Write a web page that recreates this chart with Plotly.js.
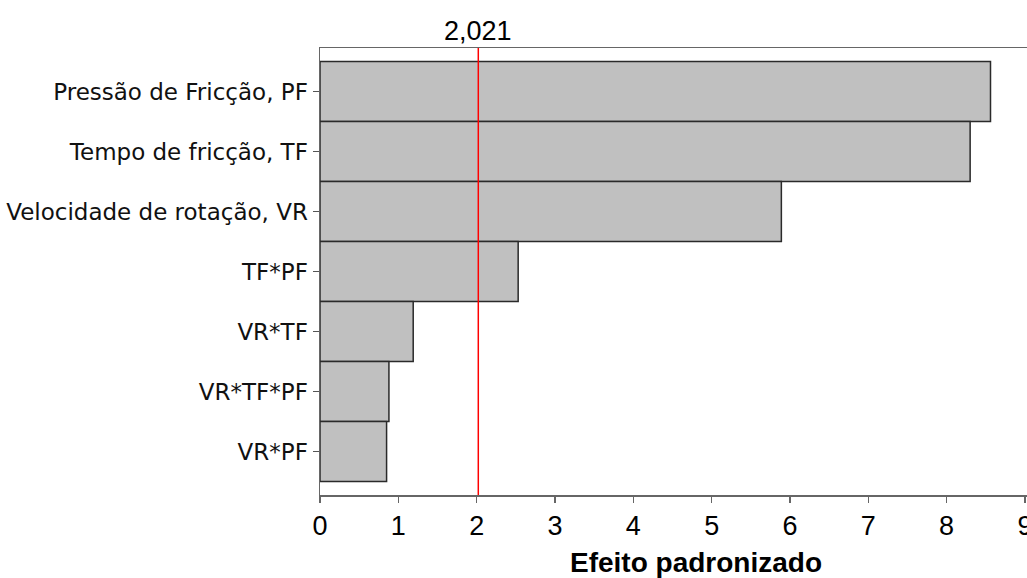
<!DOCTYPE html>
<html>
<head>
<meta charset="utf-8">
<script src="https://cdn.plot.ly/plotly-3.0.1.min.js"></script>
<style>html,body{margin:0;padding:0;background:#fff;overflow:hidden}</style>
</head>
<body>
<div id="chart" style="width:1027px;height:578px"></div>
<script>
var categories = ["Pressão de Fricção, PF", "Tempo de fricção, TF", "Velocidade de rotação, VR", "TF*PF", "VR*TF", "VR*TF*PF", "VR*PF"];
var effects = [8.56, 8.30, 5.89, 2.53, 1.19, 0.88, 0.85];
var referenceValue = 2.021;
var referenceLabel = "2,021";
var xTicks = [0, 1, 2, 3, 4, 5, 6, 7, 8, 9];
var xTitle = "Efeito padronizado";

var trace = {
  type: "bar",
  orientation: "h",
  x: effects,
  y: categories,
  marker: {color: "#c0c0c0", line: {color: "#2a2a2a", width: 1.5}},
  hoverinfo: "x+y"
};

var layout = {
  width: 1027,
  height: 578,
  margin: {l: 320, r: 0, t: 48, b: 83},
  paper_bgcolor: "#ffffff",
  plot_bgcolor: "#ffffff",
  bargap: 0,
  showlegend: false,
  font: {family: "Liberation Sans, Arial, sans-serif", color: "#000"},
  xaxis: {
    range: [0, 707 / 78.33],
    tickvals: xTicks,
    ticktext: xTicks.map(String),
    ticks: "outside",
    ticklen: 6,
    tickwidth: 1.5,
    tickcolor: "#666",
    showline: true,
    linecolor: "#666",
    linewidth: 1.5,
    mirror: true,
    showgrid: false,
    zeroline: false,
    ticklabeloverflow: "allow",
    tickfont: {size: 27, family: "Liberation Sans, Arial, sans-serif"},
    fixedrange: true
  },
  yaxis: {
    type: "category",
    range: [6.725, -0.725],
    ticks: "outside",
    ticklen: 6,
    tickwidth: 1.2,
    tickcolor: "#555",
    showline: true,
    linecolor: "#666",
    linewidth: 1.5,
    showgrid: false,
    zeroline: false,
    ticklabelstandoff: 0,
    tickfont: {size: 23, family: "DejaVu Sans, sans-serif", color: "#111"},
    fixedrange: true
  },
  shapes: [{
    type: "line",
    xref: "x", yref: "paper",
    x0: referenceValue, x1: referenceValue, y0: 0, y1: 1,
    line: {color: "#ff0000", width: 1.5}
  }],
  annotations: [{
    xref: "x", yref: "paper",
    x: referenceValue, y: 1,
    yanchor: "bottom", xanchor: "center",
    yshift: 0,
    text: referenceLabel,
    showarrow: false,
    font: {size: 27, family: "Liberation Sans, Arial, sans-serif", color: "#000"}
  }, {
    xref: "paper", yref: "paper",
    x: (696 - 320) / 707, y: 0,
    xanchor: "center", yanchor: "top",
    yshift: -50,
    text: "<b>" + xTitle + "</b>",
    showarrow: false,
    font: {size: 28, family: "Liberation Sans, Arial, sans-serif", color: "#000"}
  }]
};

Plotly.newPlot("chart", [trace], layout, {displayModeBar: false, staticPlot: true});
</script>
</body>
</html>
